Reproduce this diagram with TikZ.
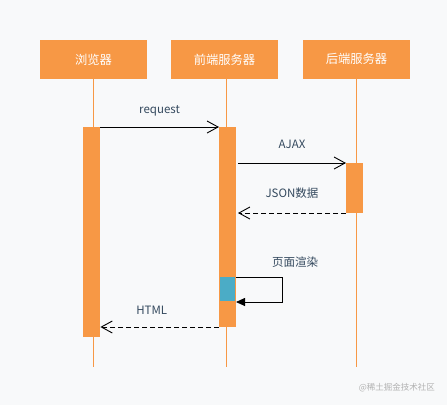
\documentclass[tikz,border=0pt]{standalone}
\usepackage{fontspec}
\setmainfont{Noto Sans CJK SC}
\usetikzlibrary{arrows.meta}
\definecolor{orng}{HTML}{F79845}
\definecolor{blu}{HTML}{4BACC6}
\definecolor{lbl}{HTML}{34495E}
\definecolor{bgc}{HTML}{F8F9FA}
\begin{document}
\begin{tikzpicture}[x=1pt,y=-1pt,
  head/.style={fill=orng,draw=none,minimum width=107pt,minimum height=39pt,text=white,font=\fontsize{12.3}{14}\selectfont,inner sep=0pt},
  life/.style={draw=orng,line width=1pt},
  bar/.style={fill=orng,draw=none},
  msg/.style={draw=black,line width=0.9pt,-{Straight Barb[length=11pt,width=12pt,line width=0.9pt]}},
  rmsg/.style={msg,dashed,dash pattern=on 5pt off 3pt},
  lab/.style={text=lbl,font=\fontsize{11.5}{13}\selectfont,inner sep=0pt}]
\fill[bgc] (0,0) rectangle (447,405);
\useasboundingbox (0,0) rectangle (447,405);
% headers
\node[head] (b) at (93.5,59.5) {浏览器};
\node[head] (f) at (224.5,59.5) {前端服务器};
\node[head] (s) at (356.5,59) {后端服务器};
% lifeline ends
\coordinate (bend) at (93,367);
\coordinate (fend) at (226,367);
\coordinate (send) at (356,367);
\draw[life] (b.south -| bend) -- (bend);
\draw[life] (f.south -| fend) -- (fend);
\draw[life] (s.south -| send) -- (send);
% activation bars
\node[bar,minimum width=17pt,minimum height=210pt,inner sep=0pt,anchor=north west] (bb) at (83,127) {};
\node[bar,minimum width=17pt,minimum height=200pt,inner sep=0pt,anchor=north west] (fb) at (219,127) {};
\node[bar,minimum width=17pt,minimum height=50pt,inner sep=0pt,anchor=north west] (sb) at (346,163) {};
\node[fill=blu,draw=none,minimum width=15pt,minimum height=24pt,inner sep=0pt,anchor=north west] (rb) at (220,277) {};
% messages
\coordinate (r1) at (100,127);
\draw[msg] (r1) -- (r1 -| fb.west) node[lab,midway,above=10pt] {request};
\coordinate (a1) at (238,163);
\draw[msg] (a1) -- (a1 -| sb.west) node[lab,midway,above=14pt] {AJAX};
\coordinate (j1) at (346,213);
\coordinate (j2) at (238,213);
\draw[rmsg] (j1) -- (j2) node[lab,midway,above=14pt] {JSON数据};
\coordinate (h1) at (219,327);
\draw[rmsg] (h1) -- (h1 -| bb.east) node[lab,midway,above=12pt,xshift=-8pt] {HTML};
% self loop
\coordinate (l1) at (236,277.5);
\coordinate (l2) at (282,277.5);
\coordinate (l3) at (282,302);
\coordinate (l4) at (236,302);
\draw[line width=0.9pt,-{Triangle[length=9pt,width=8pt]}] (l1) -- (l2) -- (l3) -- (l4);
\node[lab,anchor=west] (rl) at (272,262) {页面渲染};
% watermark
\node[text=gray!60,font=\fontsize{8.5}{10}\selectfont,inner sep=0pt,anchor=east] (wm) at (435,388) {@稀土掘金技术社区};
\end{tikzpicture}
\end{document}
